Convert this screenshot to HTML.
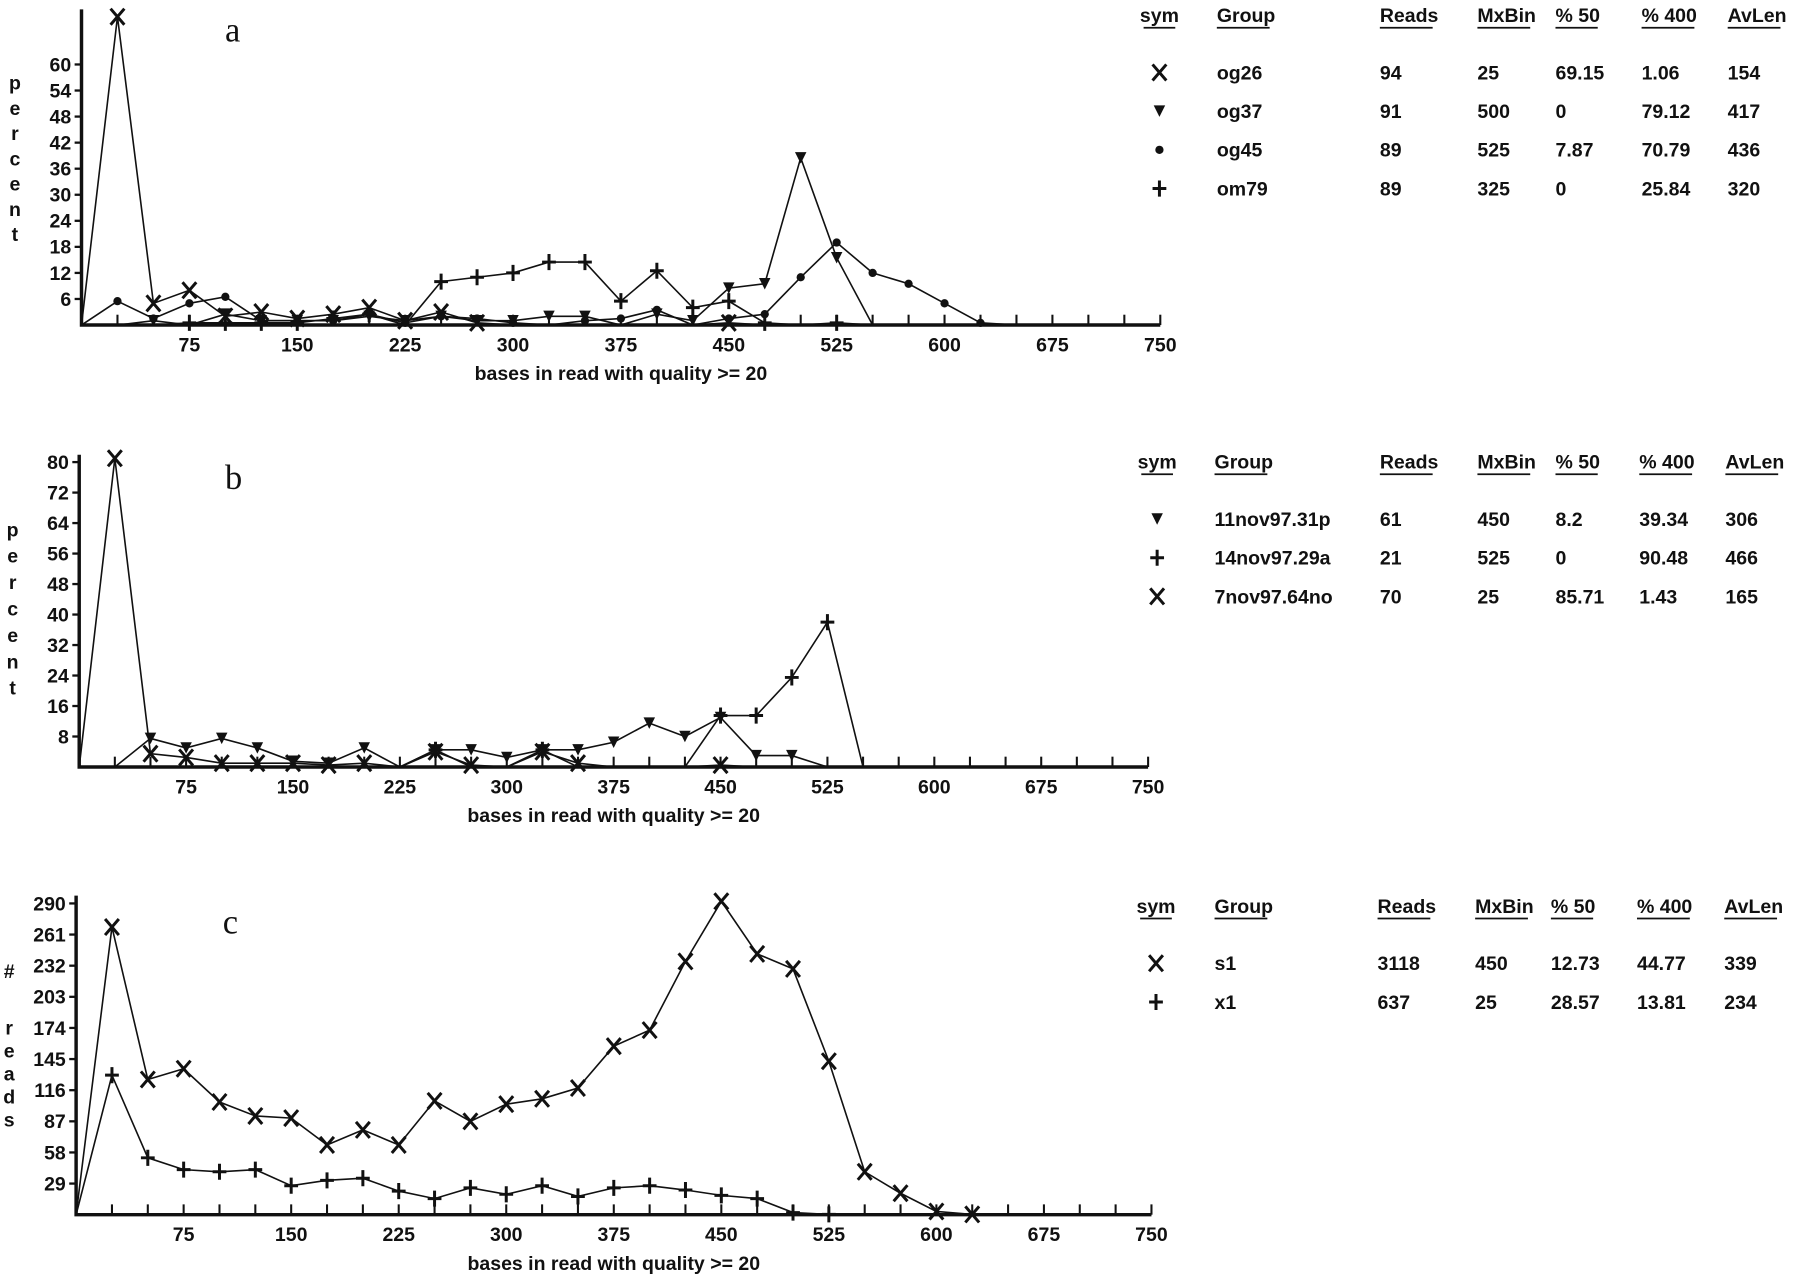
<!DOCTYPE html>
<html><head><meta charset="utf-8"><style>
html,body{margin:0;padding:0;background:#fff;}
svg{display:block;}
text{font-family:"Liberation Sans",sans-serif;font-weight:bold;fill:#111;}
.t{font-size:17px;}
.lbl{font-size:17px;}
</style></head><body>
<svg id="chart" width="1800" height="1278" viewBox="0 0 1568 1113" xmlns="http://www.w3.org/2000/svg"></svg>
<script>
const bins = [0,25,50,75,100,125,150,175,200,225,250,275,300,325,350,375,400,425,450,475,500,525,550,575,600,625,650];
const xTicks = [75,150,225,300,375,450,525,600,675,750];

const aYTicks = [6,12,18,24,30,36,42,48,54,60];
const aOg26 = [0,71,5,8,2,3,1.5,2.5,4,1,3,0.5,0,0,0,0,0,0,0.5,0,0,0,0];
const aOg37 = [0,0,1,0,2.5,1,1,1,2,1,2,1,1,2,2,0,2.5,1,8.5,9.5,38.5,15.5,0];
const aOg45 = [0,5.5,1.5,5,6.5,1,1,1,2.5,0.5,2,1.5,0.5,0,1,1.5,3.5,0,1.5,2.5,11,19,12,9.5,5,0.5,0];
const aOm79 = [0,0,0,0.5,0.5,0.5,0.5,1.5,2.5,0,10,11,12,14.5,14.5,5.5,12.5,4,5.5,0.5,0,0.5,0];

const bYTicks = [8,16,24,32,40,48,56,64,72,80];
const b11nov = [0,0,7.5,5,7.5,5,1.5,1,5,0,4.5,4.5,2.5,4.5,4.5,6.5,11.5,8,13,3,3,0];
const b14nov = [0,0,0,0,0,0,0,0,0,0,4.5,0,0,4.5,0,0,0,0,13.5,13.5,23.5,38,0];
const b7nov = [0,81,3.5,2.5,1,1,1,0.5,1,0,4,0.5,0,4,1,0,0,0,0.5,0];

const cYTicks = [29,58,87,116,145,174,203,232,261,290];
const cS1 = [0,268,126,136,105,92,90,65,79,65,106,87,103,108,118,157,172,236,292,243,229,143,40,20,3,0.3];
const cX1 = [0,130,53,42,40,42,27,32,34,22,15,25,19,27,17,25,27,23,18,15,2,0.3];

const svg = document.getElementById('chart');
const NS = 'http://www.w3.org/2000/svg';
function el(tag, attrs, parent){const e=document.createElementNS(NS,tag);for(const k in attrs)e.setAttribute(k,attrs[k]);(parent||svg).appendChild(e);return e;}
function txt(x,y,s,anchor,cls,parent){const t=el('text',{x:x,y:y,'text-anchor':anchor||'start',class:cls||'t'},parent);t.textContent=s;return t;}

function marker(g,type,x,y){
  if(type==='x'){el('path',{d:`M${x-6} ${y-7}L${x+6} ${y+7}M${x+6} ${y-7}L${x-6} ${y+7}`,stroke:'#111','stroke-width':2.6,fill:'none'},g);}
  else if(type==='tri'){el('path',{d:`M${x-5} ${y-5}L${x+5} ${y-5}L${x} ${y+5}Z`,fill:'#111'},g);}
  else if(type==='dot'){el('circle',{cx:x,cy:y,r:3.6,fill:'#111'},g);}
  else if(type==='plus'){el('path',{d:`M${x-6} ${y}L${x+6} ${y}M${x} ${y-7}L${x} ${y+7}`,stroke:'#111','stroke-width':2.6,fill:'none'},g);}
}

function panel(cfg){
  const g=el('g',{});
  
  
  const X=v=>cfg.x0+v*cfg.sx;
  const Y=v=>cfg.y0-v*cfg.sy;
  const ax=el('path',{d:`M${X(0)} ${cfg.yTop}L${X(0)} ${cfg.y0}L${X(750)} ${cfg.y0}`,stroke:'#111','stroke-width':3,fill:'none'},g);
  
  
  for(let v=25;v<=750;v+=25){el('line',{x1:X(v),y1:cfg.y0,x2:X(v),y2:cfg.y0-9,stroke:'#111','stroke-width':1.8},g);}
  xTicks.forEach(v=>{const t=txt(X(v),cfg.y0+23,String(v),'middle','lbl',g);});
  cfg.yTicks.forEach(v=>{el('line',{x1:X(0)-6,y1:Y(v),x2:X(0),y2:Y(v),stroke:'#111','stroke-width':2},g);const t=txt(X(0)-9,Y(v)+6,String(v),'end','lbl',g);});
  const xt=txt(X(375),cfg.y0+48,'bases in read with quality >= 20','middle','lbl',g);
  
  cfg.ylabel.forEach((ch,i)=>{const t=txt(cfg.ylx,cfg.yly+i*cfg.yld,ch,'middle','lbl',g);});
  const pl=el('text',{x:cfg.lx,y:cfg.ly,'font-size':30,style:'font-family:"Liberation Serif",serif;font-weight:normal'},g);
  pl.textContent=cfg.letter;
  cfg.series.forEach(s=>{
    const sg=el('g',{},g);
    
    
    const pts=s.data.map((v,i)=>[X(bins[i]),Y(v)]);
    el('polyline',{points:pts.map(p=>p.join(',')).join(' '),fill:'none',stroke:'#111','stroke-width':1.4},sg);
    pts.forEach((p,i)=>{if(i>0 && s.data[i]>0)marker(sg,s.m,p[0],p[1]);});
  });
  const tg=el('g',{},g);
  
  
  const cols=cfg.cols;
  const heads=['sym','Group','Reads','MxBin','% 50','% 400','AvLen'];
  heads.forEach((h,i)=>{const x=cols[i];const anchor=i===0?'middle':'start';const t=txt(x,cfg.ty,h,anchor,'t',tg);
    const w=h.length*9.2;const x1=i===0?x-w/2:x;el('line',{x1:x1,y1:cfg.ty+5,x2:x1+w,y2:cfg.ty+5,stroke:'#111','stroke-width':1.5},tg);});
  cfg.rows.forEach((r,ri)=>{const y=cfg.ty+50+ri*33.7;marker(tg,r[0],cols[0],y-6);
    for(let c=1;c<7;c++){const t=txt(cols[c],y,r[c],'start','t',tg);}});
}

panel({name:'panel-a',letter:'a',lx:196,ly:36,x0:71,sx:1.253,y0:283,sy:3.783,yTop:8,yTicks:aYTicks,
  ylabel:['p','e','r','c','e','n','t'],ylx:13,yly:78,yld:22,
  series:[{name:'og26',m:'x',data:aOg26},{name:'og37',m:'tri',data:aOg37},{name:'og45',m:'dot',data:aOg45},{name:'om79',m:'plus',data:aOm79}],
  cols:[1010,1060,1202,1287,1355,1430,1505],ty:19,
  rows:[['x','og26','94','25','69.15','1.06','154'],['tri','og37','91','500','0','79.12','417'],['dot','og45','89','525','7.87','70.79','436'],['plus','om79','89','325','0','25.84','320']]});

panel({name:'panel-b',letter:'b',lx:196,ly:426,x0:69,sx:1.2415,y0:668,sy:3.32,yTop:396,yTicks:bYTicks,
  ylabel:['p','e','r','c','e','n','t'],ylx:11,yly:467,yld:23,
  series:[{name:'11nov97-31p',m:'tri',data:b11nov},{name:'14nov97-29a',m:'plus',data:b14nov},{name:'7nov97-64no',m:'x',data:b7nov}],
  cols:[1008,1058,1202,1287,1355,1428,1503],ty:408,
  rows:[['tri','11nov97.31p','61','450','8.2','39.34','306'],['plus','14nov97.29a','21','525','0','90.48','466'],['x','7nov97.64no','70','25','85.71','1.43','165']]});

panel({name:'panel-c',letter:'c',lx:194,ly:813,x0:66.3,sx:1.249,y0:1058,sy:0.935,yTop:780,yTicks:cYTicks,
  ylabel:['r','e','a','d','s'],ylx:8,yly:901,yld:20,
  series:[{name:'s1',m:'x',data:cS1},{name:'x1',m:'plus',data:cX1}],
  cols:[1007,1058,1200,1285,1351,1426,1502],ty:795,
  rows:[['x','s1','3118','450','12.73','44.77','339'],['plus','x1','637','25','28.57','13.81','234']]});
const h=txt(8,852,'#','middle','lbl');


</script>
</body></html>
